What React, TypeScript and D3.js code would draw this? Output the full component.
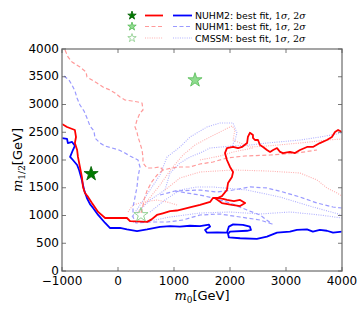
import React from "react";
import * as d3 from "d3";

type Pt = [number, number];

// axis ticks
const m0Ticks = [-1000, 0, 1000, 2000, 3000, 4000];
const m12Ticks = [0, 500, 1000, 1500, 2000, 2500, 3000, 3500, 4000];

// best fit points [m0, m12]
const nuhm2Best: Pt = [-480, 1750];
const nuhm1Best: Pt = [1375, 3440];
const cmssmBest: Pt = [410, 1010];

// NUHM2 1 sigma (solid red)
const nuhm2Sigma1: Pt[] = [
  [-1000, 2650], [-910, 2595], [-770, 2540], [-750, 2415], [-770, 2305], [-730, 2180],
  [-715, 2055], [-680, 1875], [-645, 1695], [-625, 1515], [-590, 1405], [-535, 1335],
  [-465, 1225], [-355, 1065], [-230, 955], [160, 955], [215, 900], [520, 885],
  [600, 930], [695, 1010], [800, 1040], [930, 1080], [1050, 1090], [1160, 1115],
  [1300, 1150], [1465, 1190], [1645, 1245], [1695, 1315], [1820, 1315], [1945, 1280],
  [2070, 1260], [2180, 1280], [2270, 1225], [2180, 1170], [2035, 1190], [1855, 1225],
  [1750, 1300], [1855, 1350], [1945, 1460], [1965, 1585], [2035, 1695], [2055, 1785],
  [2000, 1875], [1945, 2000], [1910, 2125], [1945, 2215], [2055, 2235], [2145, 2215],
  [2215, 2235], [2305, 2305], [2320, 2415], [2355, 2490], [2410, 2450], [2410, 2400],
  [2445, 2360], [2500, 2360], [2535, 2270], [2590, 2235], [2660, 2180], [2715, 2145],
  [2770, 2180], [2840, 2215], [2895, 2145], [2945, 2125], [3070, 2145], [3160, 2125],
  [3250, 2180], [3375, 2235], [3480, 2235], [3605, 2305], [3730, 2360], [3820, 2415],
  [3875, 2505], [3930, 2540], [4000, 2505],
];

// NUHM2 2 sigma (solid blue)
const nuhm2Sigma2: Pt[] = [
  [-1000, 2395], [-910, 2380], [-895, 2305], [-820, 2325], [-770, 2255], [-805, 2180],
  [-855, 2055], [-805, 2000], [-730, 1910], [-695, 1820], [-645, 1640], [-605, 1460],
  [-555, 1315], [-500, 1205], [-445, 1135], [-355, 1010], [-230, 865], [-145, 775],
  [35, 775], [160, 750], [340, 720], [520, 750], [750, 795], [930, 810], [1105, 800],
  [1285, 815], [1465, 810], [1625, 835], [1645, 800], [1555, 740], [1590, 690],
  [1770, 695], [1945, 690], [1980, 800], [2055, 840], [2230, 830], [2355, 800],
  [2375, 740], [2305, 725], [2000, 710], [1965, 670], [1980, 605], [2180, 590],
  [2480, 580], [2660, 620], [2840, 690], [3070, 710], [3195, 740], [3375, 750],
  [3480, 710], [3605, 740], [3730, 725], [3840, 690], [4000, 710],
];

// NUHM1 1 sigma (dashed light red)
const nuhm1Sigma1Main: Pt[] = [
  [-946, 3980], [-893, 3856], [-821, 3766], [-679, 3676], [-571, 3586], [-554, 3496],
  [-464, 3441], [-375, 3387], [-268, 3315], [-143, 3261], [-54, 3207], [36, 3135],
  [125, 3081], [250, 3063], [357, 3045], [429, 3027], [446, 2901], [393, 2847],
  [339, 2721], [304, 2595], [339, 2505], [357, 2414], [393, 2306], [429, 2180],
  [446, 2054], [446, 1946], [518, 1856], [625, 1856], [750, 1874], [804, 1820],
  [964, 1856], [1107, 1874], [1286, 1874], [1464, 1928], [1696, 1964], [1946, 2036],
  [2268, 2072], [2714, 2090], [3196, 2126], [3554, 2180],
];
const nuhm1Sigma1Lower: Pt[] = [
  [804, 1820], [700, 1730], [600, 1600], [520, 1450], [470, 1300], [440, 1150], [410, 1040],
];

// NUHM1 2 sigma (dashed light blue)
const nuhm1Sigma2Main: Pt[] = [
  [-964, 3514], [-875, 3441], [-821, 3351], [-768, 3243], [-732, 3117], [-679, 2991],
  [-607, 2883], [-554, 2757], [-500, 2613], [-429, 2523], [-411, 2396], [-321, 2306],
  [-232, 2252], [-107, 2216], [18, 2180], [125, 2126], [214, 2072], [357, 2000],
  [393, 1874], [357, 1694], [339, 1514], [304, 1333], [268, 1153], [268, 973],
  [321, 865], [571, 883], [875, 883], [1161, 919], [1464, 1009], [1821, 1027],
  [2179, 973], [2536, 919], [2750, 847], [2536, 1009], [2304, 1099], [2000, 1225],
  [1696, 1315], [1464, 1369], [1232, 1405], [1018, 1441],
];
const nuhm1Sigma2Band: Pt[] = [
  [750, 1369], [1018, 1441], [1464, 1459], [1768, 1423], [2054, 1459], [2357, 1514],
  [2661, 1496], [2946, 1423], [3250, 1333], [3554, 1225], [3839, 1153], [4000, 1135],
];

// CMSSM 1 sigma (dotted light red)
const cmssmSigma1Upper: Pt[] = [
  [357, 1063], [536, 1279], [750, 1550], [964, 1856], [1161, 2090], [1375, 2270],
  [1643, 2414], [1857, 2523], [2036, 2613], [2089, 2541], [2054, 2360], [2357, 2234],
  [2661, 2252], [3250, 2306], [3732, 2360], [4000, 2378],
];
const cmssmSigma1Inner: Pt[] = [
  [1464, 2000], [1821, 2072], [2054, 2144], [2411, 2216],
];
const cmssmSigma1Lower: Pt[] = [
  [839, 1459], [1107, 1676], [1464, 1784], [2054, 1820], [2661, 1802], [3250, 1766],
  [3554, 1640], [3732, 1496], [3911, 1405], [4000, 1351],
];
const cmssmSigma1Star: Pt[] = [
  [179, 1063], [268, 1189], [446, 1243], [696, 1279], [875, 1243], [1054, 1189],
];

// CMSSM 2 sigma (dotted light blue)
const cmssmSigma2Upper: Pt[] = [
  [250, 973], [393, 1189], [571, 1459], [750, 1730], [875, 2054], [1107, 2234],
  [1286, 2414], [1589, 2595], [1821, 2667], [2054, 2667], [2125, 2487], [2089, 2360],
  [2036, 2252], [2357, 2270], [2661, 2306], [3250, 2360], [3607, 2414], [4000, 2487],
];
const cmssmSigma2Inner: Pt[] = [
  [339, 1045], [571, 1279], [839, 1459], [929, 1766], [1107, 1946], [1286, 2054],
  [1464, 2126], [1643, 2216], [2036, 2252],
];
const cmssmSigma2Lower: Pt[] = [
  [571, 1063], [839, 1279], [1107, 1459], [1411, 1514], [1696, 1514], [2304, 1459],
  [2893, 1333], [3482, 1153], [4000, 1009],
];
const cmssmSigma2Bottom: Pt[] = [
  [268, 883], [571, 901], [929, 973], [1464, 1045], [2000, 1063], [2536, 1027],
  [3071, 1063], [3607, 1009], [4000, 955],
];

const legendLabels = ["NUHM2", "NUHM1", "CMSSM"];

const W = 364;
const H = 319;
const left = 62;
const right = 342;
const top = 49;
const bottom = 271;

const x = d3.scaleLinear().domain([-1000, 4000]).range([left, right]);
const y = d3.scaleLinear().domain([0, 4000]).range([bottom, top]);
const line = d3.line<Pt>().x(d => x(d[0])).y(d => y(d[1]));

const red1 = "#ff0000";
const blue1 = "#0000ff";
const red2 = "#ff9a9a";
const blue2 = "#9a9aff";
const red3 = "#ffb0b0";
const blue3 = "#b0b0ff";

const dash = "4,2.5";
const dot = "1,1.3";

const starPath = (area: number) => d3.symbol().type(d3.symbolStar).size(area)() as string;

const styles = [
  { star: { fill: "#007a00", stroke: "#006000" }, c1: red1, c2: blue1, dash: undefined, w: 1.8 },
  { star: { fill: "#8fdc8f", stroke: "#55bb55" }, c1: red2, c2: blue2, dash: dash, w: 1.2 },
  { star: { fill: "#ffffff", stroke: "#88cc88" }, c1: red3, c2: blue3, dash: dot, w: 1.1 },
];

export default function App() {
  const minus = (v: number) => (v < 0 ? "\u2212" + Math.abs(v) : String(v));
  const curve = (d: Pt[], color: string, w: number, da?: string) => (
    <path d={line(d) as string} fill="none" stroke={color} strokeWidth={w}
      strokeDasharray={da} strokeLinejoin="round" />
  );
  return (
    <svg width={W} height={H} style={{ position: "absolute", left: 0, top: 0, background: "#fff" }}
      fontFamily="DejaVu Sans">
      <defs>
        <clipPath id="plot">
          <rect x={left} y={top} width={right - left} height={bottom - top} />
        </clipPath>
      </defs>

      {/* legend */}
      {legendLabels.map((lab, i) => {
        const cy = [15.5, 26.5, 38][i];
        const s = styles[i];
        return (
          <g key={lab}>
            <path d={starPath(22)} transform={`translate(132,${cy})`} fill={s.star.fill}
              stroke={s.star.stroke} strokeWidth={0.8} />
            <line x1={145} x2={163} y1={cy} y2={cy} stroke={s.c1} strokeWidth={s.w} strokeDasharray={s.dash} />
            <line x1={173} x2={192} y1={cy} y2={cy} stroke={s.c2} strokeWidth={s.w} strokeDasharray={s.dash} />
            <text x={195} y={cy + 3.8} fontSize={9.4} fill="#000">
              {lab}: best fit,{" "}
              <tspan fontFamily="DejaVu Serif">1<tspan fontStyle="italic">σ</tspan>, 2<tspan fontStyle="italic">σ</tspan></tspan>
            </text>
          </g>
        );
      })}

      <g clipPath="url(#plot)">
        {curve(cmssmSigma2Upper, blue3, 1.1, dot)}
        {curve(cmssmSigma2Inner, blue3, 1.1, dot)}
        {curve(cmssmSigma2Lower, blue3, 1.1, dot)}
        {curve(cmssmSigma2Bottom, blue3, 1.1, dot)}
        {curve(cmssmSigma1Upper, red3, 1.1, dot)}
        {curve(cmssmSigma1Inner, red3, 1.1, dot)}
        {curve(cmssmSigma1Lower, red3, 1.1, dot)}
        {curve(cmssmSigma1Star, red3, 1.1, dot)}
        {curve(nuhm1Sigma2Main, blue2, 1.2, dash)}
        {curve(nuhm1Sigma2Band, blue2, 1.2, dash)}
        {curve(nuhm1Sigma1Main, red2, 1.2, dash)}
        {curve(nuhm1Sigma1Lower, red2, 1.2, dash)}
        {curve(nuhm2Sigma2, blue1, 1.8)}
        {curve(nuhm2Sigma1, red1, 1.8)}
      </g>

      {/* best fit stars */}
      <path d={starPath(62)} transform={`translate(${x(nuhm2Best[0])},${y(nuhm2Best[1])})`}
        fill="#007a00" stroke="#006000" strokeWidth={0.8} />
      <path d={starPath(62)} transform={`translate(${x(nuhm1Best[0])},${y(nuhm1Best[1])})`}
        fill="#8fdc8f" stroke="#55bb55" strokeWidth={0.8} />
      <path d={starPath(62)} transform={`translate(${x(cmssmBest[0])},${y(cmssmBest[1])})`}
        fill="none" stroke="#88cc88" strokeWidth={0.9} />

      {/* frame & ticks */}
      <rect x={left} y={top} width={right - left} height={bottom - top} fill="none" stroke="#888" strokeWidth={1.5} />
      {m0Ticks.map(t => (
        <g key={"x" + t}>
          <line x1={x(t)} x2={x(t)} y1={bottom} y2={bottom - 4} stroke="#555" strokeWidth={0.8} />
          <line x1={x(t)} x2={x(t)} y1={top} y2={top + 4} stroke="#555" strokeWidth={0.8} />
          <text x={x(t)} y={285} fontSize={12} textAnchor="middle">{minus(t)}</text>
        </g>
      ))}
      {m12Ticks.map(t => (
        <g key={"y" + t}>
          <line x1={left} x2={left + 4} y1={y(t)} y2={y(t)} stroke="#555" strokeWidth={0.8} />
          <line x1={right} x2={right - 4} y1={y(t)} y2={y(t)} stroke="#555" strokeWidth={0.8} />
          <text x={59} y={y(t) + 3.5} fontSize={12} textAnchor="end">{t}</text>
        </g>
      ))}

      {/* axis labels */}
      <text x={202} y={300} fontSize={13} textAnchor="middle">
        <tspan fontFamily="DejaVu Serif" fontStyle="italic">m</tspan>
        <tspan fontFamily="DejaVu Serif" fontSize={9} dy={2.5}>0</tspan>
        <tspan dy={-2.5}>[GeV]</tspan>
      </text>
      <text transform="translate(22,160) rotate(-90)" fontSize={13} textAnchor="middle">
        <tspan fontFamily="DejaVu Serif" fontStyle="italic">m</tspan>
        <tspan fontFamily="DejaVu Serif" fontSize={9} dy={2.5}>1/2</tspan>
        <tspan dy={-2.5}>[GeV]</tspan>
      </text>
    </svg>
  );
}
